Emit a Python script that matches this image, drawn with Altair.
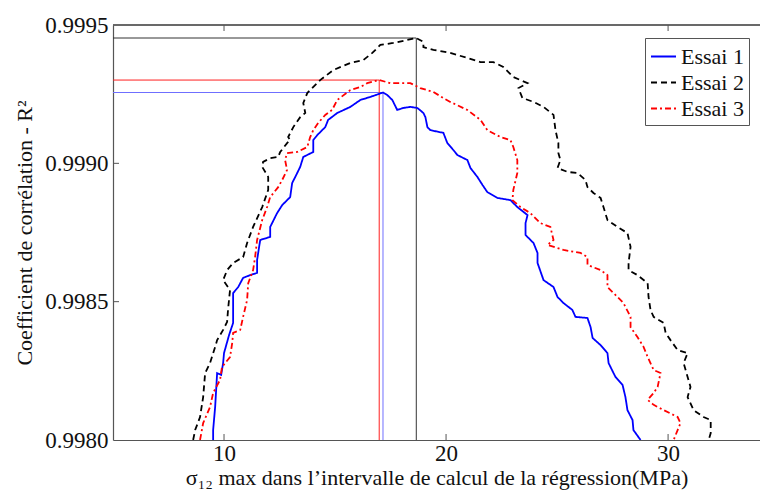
import altair as alt
import pandas as pd

series_names = ["Essai 1", "Essai 2", "Essai 3"]

essai1_x = [9.51, 9.51, 9.60, 9.69, 9.87, 9.96, 10.00, 10.23, 10.41, 10.41, 10.41, 10.64, 10.86, 11.18,
            11.49, 11.49, 11.63, 12.08, 12.08, 12.39, 12.62, 12.98, 13.07, 13.21, 13.43, 13.57, 14.02,
            14.02, 14.20, 14.56, 14.69, 15.10, 15.69, 16.14, 16.59, 17.16, 17.35, 17.58, 17.80, 18.07,
            18.39, 18.71, 18.98, 19.07, 19.16, 19.29, 19.88, 20.06, 20.33, 20.51, 20.96, 21.10, 21.41,
            21.64, 21.86, 22.31, 22.90, 23.21, 23.67, 23.58, 23.58, 23.94, 24.12, 24.12, 24.39, 24.84,
            25.02, 25.29, 25.69, 25.83, 26.37, 26.51, 26.60, 26.96, 27.27, 27.32, 27.63, 27.95, 28.08,
            28.17, 28.40, 28.44, 28.76]
essai1_y = [0.998000, 0.998036, 0.998119, 0.998242, 0.998235, 0.998278, 0.998314, 0.998380, 0.998423,
            0.998506, 0.998531, 0.998553, 0.998586, 0.998596, 0.998604, 0.998651, 0.998723, 0.998734,
            0.998770, 0.998820, 0.998849, 0.998878, 0.998929, 0.998951, 0.998987, 0.999023, 0.999041,
            0.999084, 0.999102, 0.999131, 0.999157, 0.999182, 0.999204, 0.999229, 0.999240, 0.999256,
            0.999247, 0.999229, 0.999193, 0.999200, 0.999204, 0.999200, 0.999182, 0.999167, 0.999131,
            0.999120, 0.999110, 0.999073, 0.999048, 0.999030, 0.999012, 0.998983, 0.998951, 0.998922,
            0.998896, 0.998875, 0.998867, 0.998842, 0.998813, 0.998784, 0.998741, 0.998712, 0.998676,
            0.998640, 0.998578, 0.998553, 0.998517, 0.998495, 0.998470, 0.998445, 0.998441, 0.998408,
            0.998369, 0.998343, 0.998314, 0.998278, 0.998228, 0.998199, 0.998155, 0.998108, 0.998072,
            0.998036, 0.998000]

essai2_x = [8.61, 8.70, 8.92, 9.06, 9.15, 9.37, 9.60, 9.69, 9.96, 10.14, 10.18, 10.27, 9.96, 10.14,
            10.41, 10.86, 11.04, 11.31, 11.72, 11.99, 11.99, 11.72, 11.76, 12.08, 12.44, 12.53, 12.84,
            12.98, 12.89, 13.12, 13.43, 13.66, 13.57, 13.75, 14.33, 14.92, 15.69, 16.27, 16.68, 17.04,
            17.62, 18.26, 18.66, 18.98, 18.98, 19.43, 20.19, 20.96, 21.55, 22.13, 22.58, 23.03, 23.67,
            23.26, 23.44, 23.94, 24.39, 24.84, 24.93, 25.06, 25.06, 25.15, 25.02, 25.47, 25.92, 26.28,
            26.37, 26.64, 26.96, 27.09, 27.27, 27.72, 28.17, 28.31, 28.22, 28.22, 28.62, 29.08, 29.12,
            29.21, 29.35, 29.80, 29.89, 30.11, 30.43, 30.88, 30.70, 30.88, 31.01, 30.88, 31.15, 31.60,
            31.92, 31.92, 31.83]
essai2_y = [0.998000, 0.998036, 0.998083, 0.998155, 0.998242, 0.998278, 0.998336, 0.998361, 0.998398,
            0.998427, 0.998470, 0.998542, 0.998578, 0.998614, 0.998640, 0.998661, 0.998712, 0.998770,
            0.998842, 0.998904, 0.998951, 0.998987, 0.999005, 0.999019, 0.999023, 0.999041, 0.999073,
            0.999084, 0.999095, 0.999131, 0.999167, 0.999182, 0.999218, 0.999254, 0.999301, 0.999337,
            0.999363, 0.999373, 0.999399, 0.999428, 0.999435, 0.999446, 0.999453, 0.999439, 0.999420,
            0.999410, 0.999399, 0.999381, 0.999366, 0.999366, 0.999348, 0.999312, 0.999290, 0.999272,
            0.999236, 0.999222, 0.999204, 0.999175, 0.999120, 0.999073, 0.999037, 0.999012, 0.998983,
            0.998969, 0.998965, 0.998940, 0.998914, 0.998893, 0.998875, 0.998842, 0.998795, 0.998770,
            0.998748, 0.998698, 0.998640, 0.998614, 0.998596, 0.998567, 0.998517, 0.998470, 0.998445,
            0.998423, 0.998387, 0.998361, 0.998325, 0.998314, 0.998278, 0.998228, 0.998192, 0.998155,
            0.998108, 0.998083, 0.998072, 0.998025, 0.998000]

essai3_x = [8.92, 9.06, 9.37, 9.51, 9.82, 9.91, 10.27, 10.37, 10.41, 10.73, 10.86, 11.04, 11.09, 11.31,
            11.40, 11.49, 11.72, 11.94, 12.08, 12.44, 12.62, 12.84, 12.75, 12.84, 13.30, 13.75, 13.88,
            14.02, 14.24, 14.56, 14.87, 15.10, 15.69, 16.14, 16.45, 16.99, 17.49, 17.94, 18.39, 18.84,
            19.43, 19.88, 20.19, 20.96, 21.55, 21.86, 22.45, 22.90, 23.03, 23.21, 23.21, 23.03, 22.99,
            23.35, 23.80, 24.25, 24.70, 24.84, 24.57, 25.29, 26.06, 26.37, 26.37, 26.96, 27.27, 27.27,
            27.72, 27.99, 28.31, 28.31, 28.62, 28.90, 29.08, 29.35, 29.66, 29.53, 29.35, 29.08, 29.35,
            29.80, 30.43, 30.56, 30.43, 30.25]
essai3_y = [0.998000, 0.998061, 0.998119, 0.998170, 0.998217, 0.998264, 0.998300, 0.998351, 0.998387,
            0.998398, 0.998445, 0.998506, 0.998567, 0.998614, 0.998661, 0.998723, 0.998795, 0.998842,
            0.998878, 0.998914, 0.998940, 0.998976, 0.999012, 0.999037, 0.999041, 0.999059, 0.999095,
            0.999120, 0.999146, 0.999175, 0.999193, 0.999229, 0.999265, 0.999276, 0.999290, 0.999301,
            0.999290, 0.999290, 0.999290, 0.999272, 0.999258, 0.999236, 0.999222, 0.999193, 0.999157,
            0.999120, 0.999095, 0.999084, 0.999059, 0.999012, 0.998965, 0.998904, 0.998867, 0.998842,
            0.998820, 0.998784, 0.998770, 0.998723, 0.998705, 0.998687, 0.998676, 0.998661, 0.998633,
            0.998614, 0.998596, 0.998553, 0.998517, 0.998495, 0.998445, 0.998408, 0.998372, 0.998336,
            0.998300, 0.998253, 0.998242, 0.998192, 0.998170, 0.998145, 0.998127, 0.998108, 0.998083,
            0.998061, 0.998036, 0.998000]

peak_x = [17.16, 18.66, 16.99]
peak_y = [0.999256, 0.999453, 0.999301]
peak_colors = ["#6f6fff", "#333333", "#ff2020"]

x_ticks = [10, 20, 30]
y_ticks = [0.9980, 0.9985, 0.9990, 0.9995]

rows = []
for name, xs_, ys_ in zip(series_names, [essai1_x, essai2_x, essai3_x], [essai1_y, essai2_y, essai3_y]):
    for i, (a, b) in enumerate(zip(xs_, ys_)):
        rows.append({"serie": name, "i": i, "x": a, "y": b})
df = pd.DataFrame(rows)

W, H = 647, 415
XDOM = [5, 34.14]
YDOM = [0.9980, 0.9995]
FONT = "Liberation Serif"
AX = "#555555"
TXT = "#111111"

xsc = alt.Scale(domain=XDOM, nice=False, zero=False)
ysc = alt.Scale(domain=YDOM, nice=False, zero=False)

leg = alt.Legend(title=None, orient="none", legendX=532, legendY=13,
                 labelFont=FONT, labelFontSize=22, labelColor=TXT,
                 strokeColor="#555555", fillColor="white", padding=5, rowPadding=1,
                 symbolType="stroke", symbolSize=625, symbolStrokeWidth=2, labelOffset=4)

lines = alt.Chart(df).mark_line(strokeWidth=1.8, clip=True).encode(
    x=alt.X("x:Q", scale=xsc,
            axis=alt.Axis(values=x_ticks, ticks=False, grid=False, labelPadding=2,
                          labelFont=FONT, labelFontSize=23, labelColor=TXT,
                          titleFont=FONT, titleFontSize=22, titleColor=TXT,
                          title="σ₁₂ max dans l’intervalle de calcul de la régression(MPa)",
                          titlePadding=2)),
    y=alt.Y("y:Q", scale=ysc,
            axis=alt.Axis(values=y_ticks, format=".4f", ticks=False, grid=False, labelPadding=5,
                          labelFont=FONT, labelFontSize=23, labelColor=TXT,
                          titleFont=FONT, titleFontSize=22, titleColor=TXT,
                          title="Coefficient de corrélation - R²", titlePadding=8)),
    color=alt.Color("serie:N", scale=alt.Scale(domain=series_names,
                                               range=["#0000ff", "#000000", "#ff0000"]),
                    legend=leg),
    strokeDash=alt.StrokeDash("serie:N", scale=alt.Scale(domain=series_names,
                                                         range=[[1, 0], [6, 4], [6, 3, 2, 3]]),
                              legend=leg),
    order=alt.Order("i:Q"),
)

ref_layers = []
for k in range(len(peak_x)):
    pdf = pd.DataFrame({"px": [peak_x[k]], "py": [peak_y[k]],
                        "x0": [XDOM[0]], "y0": [YDOM[0]]})
    v = alt.Chart(pdf).mark_rule(color=peak_colors[k], strokeWidth=1).encode(
        x=alt.X("px:Q", scale=xsc), y=alt.Y("py:Q", scale=ysc), y2=alt.Y2("y0:Q"))
    h = alt.Chart(pdf).mark_rule(color=peak_colors[k], strokeWidth=1).encode(
        x=alt.X("x0:Q", scale=xsc), x2=alt.X2("px:Q"), y=alt.Y("py:Q", scale=ysc))
    ref_layers += [v, h]

xt = pd.DataFrame({"t": x_ticks})
yt = pd.DataFrame({"t": y_ticks[1:-1]})
tick_bottom = alt.Chart(xt).mark_rule(color=AX).encode(
    x=alt.X("t:Q", scale=xsc), y=alt.value(H), y2=alt.value(H - 6))
tick_top = alt.Chart(xt).mark_rule(color=AX).encode(
    x=alt.X("t:Q", scale=xsc), y=alt.value(0), y2=alt.value(6))
tick_left = alt.Chart(yt).mark_rule(color=AX).encode(
    y=alt.Y("t:Q", scale=ysc), x=alt.value(0), x2=alt.value(6))
top_border = alt.Chart(xt).mark_rule(color=AX, strokeWidth=1.2).encode(
    x=alt.value(0), x2=alt.value(W), y=alt.value(0))

chart = alt.layer(*ref_layers, lines, tick_bottom, tick_top, tick_left, top_border).properties(
    width=W, height=H,
    padding={"left": 105, "top": 17, "right": 0, "bottom": 51},
    autosize=alt.AutoSizeParams(type="none"),
).configure(
    font=FONT,
    style={"guide-label": {"font": FONT, "fontSize": 23},
           "guide-title": {"font": FONT, "fontSize": 22}},
).configure_view(stroke=None).configure_axis(
    domainColor=AX, domainWidth=1.2,
    labelFont=FONT, labelFontSize=23, labelColor=TXT,
    titleFont=FONT, titleFontSize=22, titleColor=TXT, titleFontWeight="normal",
).configure_legend(
    labelFont=FONT, labelFontSize=22, labelColor=TXT, cornerRadius=0,
)

chart.save("out.html", embed_options={"renderer": "svg", "actions": False})
